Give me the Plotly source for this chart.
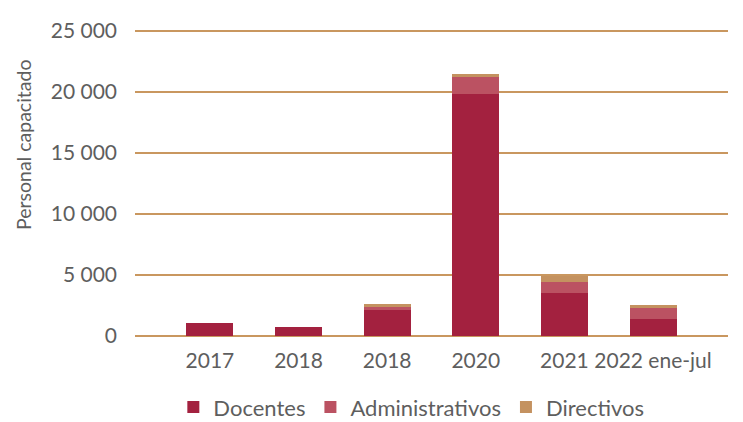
import plotly.graph_objects as go

categories = ["2017", "2018", "2018", "2020", "2021", "2022 ene-jul"]
docentes = [1100, 740, 2130, 19860, 3550, 1395]
administrativos = [0, 0, 270, 1390, 875, 930]
directivos = [0, 0, 250, 220, 465, 220]
y_ticks = [0, 5000, 10000, 15000, 20000, 25000]

x_pos = list(range(len(categories)))

FONT = "Lato"
GREY = "#5E5E5E"
GRID = "#C9975F"

fig = go.Figure()
for name, vals, color in [
    ("Docentes", docentes, "#A3213F"),
    ("Administrativos", administrativos, "#BB5262"),
    ("Directivos", directivos, "#C49260"),
]:
    fig.add_trace(go.Bar(x=x_pos, y=vals, name=name, width=0.53,
                         marker=dict(color=color, line=dict(width=0))))

fig.update_layout(
    barmode="stack",
    width=743, height=422,
    margin=dict(l=135, r=15, t=27, b=86, autoexpand=False),
    paper_bgcolor="white", plot_bgcolor="white",
    separators=", ",
    font=dict(family=FONT, size=21, color=GREY),
    showlegend=True,
    legend=dict(orientation="h", x=0.466, xanchor="center",
                yref="container", y=0.035, yanchor="middle",
                font=dict(size=22, color=GREY), traceorder="normal"),
)
fig.add_annotation(
    text="Personal capacitado", textangle=-90, showarrow=False,
    xref="paper", x=-(135 - 23) / 593, xanchor="center",
    yref="paper", y=(336 - 145) / 309, yanchor="middle",
    font=dict(size=19.5, color=GREY),
)
fig.update_xaxes(
    tickmode="array", tickvals=x_pos, ticktext=categories,
    range=[-0.845, 5.846], showgrid=False, zeroline=False,
    showline=False, ticks="", ticklabelstandoff=10, automargin=False,
    tickfont=dict(size=21, color=GREY),
)
fig.update_yaxes(
    range=[0, 25328], tickvals=y_ticks, tickformat=",.0f",
    showgrid=True, gridcolor=GRID, gridwidth=2,
    zeroline=True, zerolinecolor=GRID, zerolinewidth=2,
    showline=False, ticks="", ticklabelstandoff=17, automargin=False,
    tickfont=dict(size=21, color=GREY),
)

fig.write_html("out.html", config={"displayModeBar": False},
               post_script="document.body.style.margin='0';")
